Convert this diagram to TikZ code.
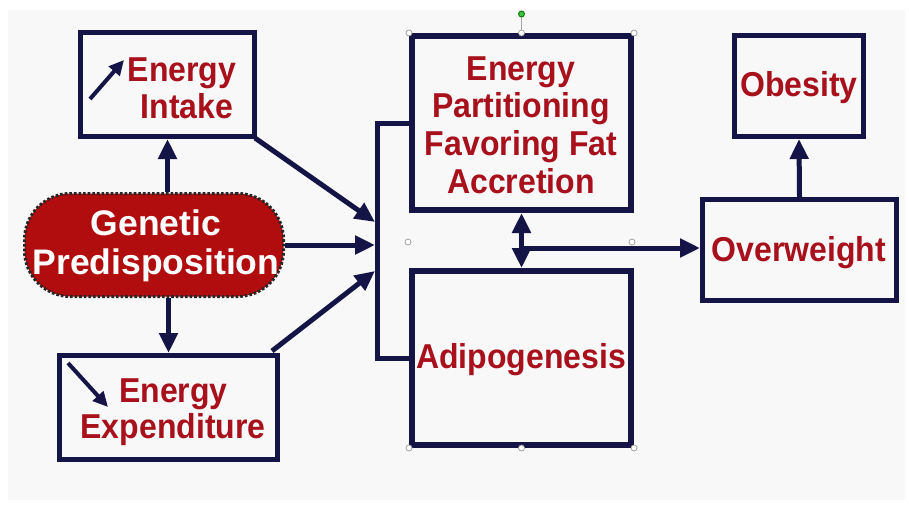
\documentclass[tikz,border=0pt]{standalone}
\usepackage{fontspec}
\setmainfont{Liberation Sans}
\usetikzlibrary{arrows.meta,calc}
\definecolor{navy}{HTML}{141446}
\definecolor{txtred}{HTML}{A8101C}
\definecolor{genred}{HTML}{B10C0E}
\definecolor{bg}{HTML}{F8F8F8}
\begin{document}
\begin{tikzpicture}[x=1pt,y=-1pt,
  box/.style={draw=navy,line width=5pt,fill=none,inner sep=0pt},
  bigbox/.style={box,line width=6pt},
  lbl/.style={text=txtred,font=\bfseries\fontsize{32}{37}\selectfont,align=center,inner sep=0pt,yscale=1.08},
  conn/.style={draw=navy,line width=5pt},
  arr/.style={conn,-{Triangle[width=18pt,length=20pt]}},
  darr/.style={conn,{Triangle[width=18pt,length=20pt]}-{Triangle[width=18pt,length=20pt]}},
  smallarr/.style={draw=navy,line width=4pt,-{Triangle[width=14pt,length=15pt]}},
  handle/.style={circle,draw=gray!80,fill=white,line width=0.7pt,inner sep=0pt,minimum size=6pt}
]
\fill[white] (0,0) rectangle (909,508);
\fill[bg] (8,10) rectangle (905,500);
\useasboundingbox (0,0) rectangle (909,508);

% boxes
\node[box,minimum width=174pt,minimum height=104pt] (ei) at (167.5,84.5) {};
\node[box,minimum width=218pt,minimum height=104pt] (ee) at (168.5,407.5) {};
\node[draw=black!85,line width=3pt,dash pattern=on 2.6pt off 2pt,fill=genred,rounded corners=46pt,minimum width=259pt,minimum height=103pt,inner sep=0pt] (gp) at (154,245) {};
\node[bigbox,minimum width=219pt,minimum height=174pt] (ep) at (521.5,123) {};
\node[bigbox,minimum width=219pt,minimum height=174pt] (ad) at (521.5,358) {};
\node[box,minimum width=129pt,minimum height=101pt] (ob) at (799,86) {};
\node[box,minimum width=194pt,minimum height=101pt] (ow) at (799.5,250) {};

% labels
\node[lbl] (eit) at (182,88) {Energy\\[-3pt]\hspace*{10pt}Intake};
\node[lbl] (eet) at (173,412) {\hspace*{1pt}Energy\\[-4pt]Expenditure};
\node[text=white,font=\bfseries\fontsize{35.5}{39}\selectfont,align=center,inner sep=0pt] (gpt) at (156,246) {Genetic\\Predisposition};
\node[lbl] (ept) at (521,125) {Energy\\[-2pt]Partitioning\\[-2pt]Favoring Fat\\[-2pt]Accretion};
\node[lbl] (adt) at (521,360) {Adipogenesis};
\node[lbl] (obt) at (799,88) {Obesity};
\node[lbl] (owt) at (799,253) {Overweight};

% bracket
\draw[conn] (ep.west) -- ++(-32,0) coordinate (bt) |- (ad.west);
\coordinate (b1) at ($(bt)+(-2,99)$);
\coordinate (b2) at ($(bt)+(-2,122)$);
\coordinate (b3) at ($(bt)+(-2,148)$);

% connectors
\draw[arr] (gp.north -| ei.south) -- (ei.south);
\draw[arr] (gp.south -| ee.north) -- (ee.north);
\draw[arr] ($(ei.south east)+(-2,-1)$) -- (b1);
\draw[arr] (gp.east) -- (b2);
\draw[arr] ($(ee.north east)+(-8,-2)$) -- (b3);
\draw[darr] (ep.south) -- (ad.north);
\draw[arr] ($(ep.south |- ow.west)+(0,-2)$) -- ($(ow.west)+(0,-2)$);
\draw[arr] (ow.north) -- (ob.south);

% small trend arrows
\coordinate (ia1) at (90,99);
\coordinate (ia2) at (124,60);
\draw[smallarr] (ia1) -- (ia2);
\coordinate (ea1) at (68,363);
\coordinate (ea2) at (108,407);
\draw[smallarr] (ea1) -- (ea2);

% selection handles
\draw[gray!70,line width=0.8pt] (ep.north) -- ++(0,-19) node[circle,draw=green!40!black,fill=green!55!gray,inner sep=0pt,minimum size=6pt] (rot) {};
\foreach \p in {ep.north west,ep.north,ep.north east,ad.south west,ad.south,ad.south east}
  \node[handle] at (\p) {};
\node[handle] (h1) at (408,242) {};
\node[handle] (h2) at (632,242) {};
\end{tikzpicture}
\end{document}
